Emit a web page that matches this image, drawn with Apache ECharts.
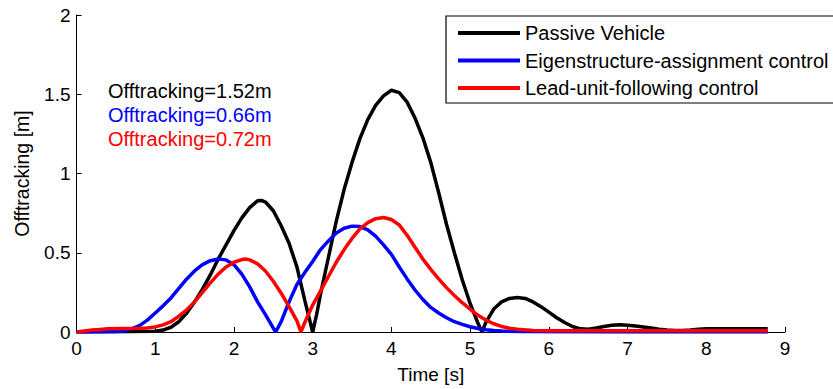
<!DOCTYPE html>
<html>
<head>
<meta charset="utf-8">
<script src="https://cdn.jsdelivr.net/npm/echarts@6/dist/echarts.min.js"></script>
<style>
html,body{margin:0;padding:0;background:#fff;}
#chart{width:833px;height:389px;}
</style>
</head>
<body>
<div id="chart"></div>
<script>
// Series names
const seriesNames = ['Passive Vehicle', 'Eigenstructure-assignment control', 'Lead-unit-following control'];
// Annotation texts
const annotations = ['Offtracking=1.52m', 'Offtracking=0.66m', 'Offtracking=0.72m'];

// Passive vehicle: time [s] and offtracking [m]
const passiveT = [0,0.5,1.0,1.1,1.2,1.3,1.4,1.5,1.6,1.7,1.8,1.9,2.0,2.1,2.2,2.3,2.35,2.4,2.5,2.6,2.7,2.8,2.9,2.95,3.0,3.05,3.1,3.2,3.3,3.4,3.5,3.6,3.7,3.8,3.9,4.0,4.1,4.2,4.3,4.4,4.5,4.6,4.7,4.8,4.9,5.0,5.1,5.15,5.2,5.3,5.4,5.5,5.6,5.7,5.8,5.9,6.0,6.1,6.2,6.3,6.4,6.5,6.6,6.7,6.8,6.9,7.0,7.1,7.2,7.3,7.4,7.5,7.6,7.7,7.8,7.9,8.0,8.2,8.5,8.78];
const passiveV = [0,0.002,0.005,0.012,0.03,0.065,0.12,0.19,0.27,0.36,0.46,0.55,0.64,0.72,0.785,0.828,0.83,0.82,0.765,0.67,0.56,0.41,0.2,0.1,0.0,0.11,0.24,0.47,0.7,0.9,1.07,1.22,1.34,1.43,1.49,1.525,1.51,1.45,1.35,1.225,1.07,0.88,0.68,0.50,0.33,0.18,0.055,0.0,0.06,0.145,0.19,0.212,0.218,0.212,0.19,0.16,0.125,0.09,0.06,0.035,0.02,0.018,0.025,0.035,0.042,0.045,0.043,0.038,0.032,0.025,0.018,0.013,0.01,0.01,0.013,0.017,0.02,0.02,0.02,0.02];

// Eigenstructure-assignment control
const eigenT = [0,0.5,0.6,0.7,0.8,0.9,1.0,1.1,1.2,1.3,1.4,1.5,1.6,1.7,1.8,1.9,2.0,2.1,2.2,2.3,2.4,2.5,2.53,2.6,2.7,2.8,2.9,3.0,3.1,3.2,3.3,3.4,3.5,3.6,3.7,3.8,3.9,4.0,4.1,4.2,4.3,4.4,4.5,4.6,4.7,4.8,4.9,5.0,5.1,5.2,5.3,5.4,5.6,6.0,7.0,8.78];
const eigenV = [0,0.003,0.008,0.02,0.04,0.075,0.12,0.165,0.215,0.275,0.335,0.385,0.425,0.45,0.46,0.455,0.425,0.365,0.285,0.19,0.11,0.025,0.0,0.065,0.19,0.3,0.375,0.445,0.52,0.575,0.625,0.655,0.668,0.665,0.645,0.605,0.55,0.49,0.41,0.335,0.265,0.205,0.155,0.12,0.09,0.065,0.048,0.033,0.022,0.014,0.009,0.006,0.003,0.001,0.0,0.0];

// Lead-unit-following control
const leadT = [0,0.1,0.2,0.3,0.4,0.6,0.8,0.9,1.0,1.1,1.2,1.3,1.4,1.5,1.6,1.7,1.8,1.9,2.0,2.1,2.15,2.2,2.3,2.4,2.5,2.6,2.7,2.8,2.85,2.9,3.0,3.1,3.2,3.3,3.4,3.5,3.6,3.7,3.8,3.9,4.0,4.1,4.2,4.3,4.4,4.5,4.6,4.7,4.8,4.9,5.0,5.1,5.2,5.3,5.4,5.5,5.6,5.8,6.0,7.0,8.78];
const leadV = [0,0.006,0.012,0.016,0.02,0.022,0.024,0.026,0.032,0.045,0.065,0.1,0.14,0.19,0.25,0.31,0.365,0.41,0.44,0.457,0.46,0.455,0.43,0.385,0.32,0.245,0.16,0.07,0.0,0.06,0.17,0.26,0.35,0.44,0.52,0.59,0.65,0.69,0.715,0.722,0.71,0.675,0.61,0.535,0.46,0.395,0.335,0.28,0.23,0.185,0.145,0.105,0.075,0.052,0.035,0.024,0.017,0.01,0.008,0.008,0.008];

const xTicks = {min: 0, max: 9, interval: 1};
const yTicks = {min: 0, max: 2, interval: 0.5};

function pairs(t, v) { return t.map((x, i) => [x, v[i]]); }

const FONT = '"Liberation Sans", Arial, Helvetica, sans-serif';
const colors = ['#000000', '#0000ff', '#ff0000'];
const tValues = [passiveT, eigenT, leadT];
const vValues = [passiveV, eigenV, leadV];

const chart = echarts.init(document.getElementById('chart'), null, {renderer: 'svg'});
chart.setOption({
  animation: false,
  backgroundColor: '#ffffff',
  grid: {left: 76.5, right: 48, top: 15, bottom: 56},
  xAxis: {
    type: 'value', min: xTicks.min, max: xTicks.max, interval: xTicks.interval,
    name: 'Time [s]', nameLocation: 'middle', nameGap: 33,
    nameTextStyle: {color: '#000', fontSize: 19, fontFamily: FONT},
    axisLine: {show: true, lineStyle: {color: '#000', width: 1}},
    axisTick: {show: true, inside: true, length: 5, lineStyle: {color: '#000'}},
    axisLabel: {color: '#000', fontSize: 19, fontFamily: FONT, margin: 7},
    splitLine: {show: false}
  },
  yAxis: {
    type: 'value', min: yTicks.min, max: yTicks.max, interval: yTicks.interval,
    name: 'Offtracking [m]', nameLocation: 'middle', nameGap: 45,
    nameTextStyle: {color: '#000', fontSize: 19.5, fontFamily: FONT},
    axisLine: {show: true, lineStyle: {color: '#000', width: 1}},
    axisTick: {show: true, inside: true, length: 5, lineStyle: {color: '#000'}},
    axisLabel: {color: '#000', fontSize: 19, fontFamily: FONT, margin: 6},
    splitLine: {show: false}
  },
  legend: {
    orient: 'vertical', left: 446, top: 16,
    padding: [7, 12, 5, 12],
    borderColor: '#000', borderWidth: 1.2, backgroundColor: '#fff',
    itemWidth: 62, itemHeight: 4, itemGap: 7.5, icon: 'rect',
    textStyle: {color: '#000', fontSize: 20, fontFamily: FONT, lineHeight: 20},
    data: seriesNames
  },
  series: seriesNames.map((name, i) => ({
    name: name, type: 'line', showSymbol: false, symbol: 'none',
    data: pairs(tValues[i], vValues[i]),
    lineStyle: {color: colors[i], width: 3.5},
    itemStyle: {color: colors[i]},
    z: 2 + i
  })),
  graphic: annotations.map((txt, i) => ({
    type: 'text', left: 108, top: [81, 105, 129][i],
    style: {text: txt, fill: colors[i], fontSize: 20, fontFamily: FONT}
  }))
});
</script>
</body>
</html>
